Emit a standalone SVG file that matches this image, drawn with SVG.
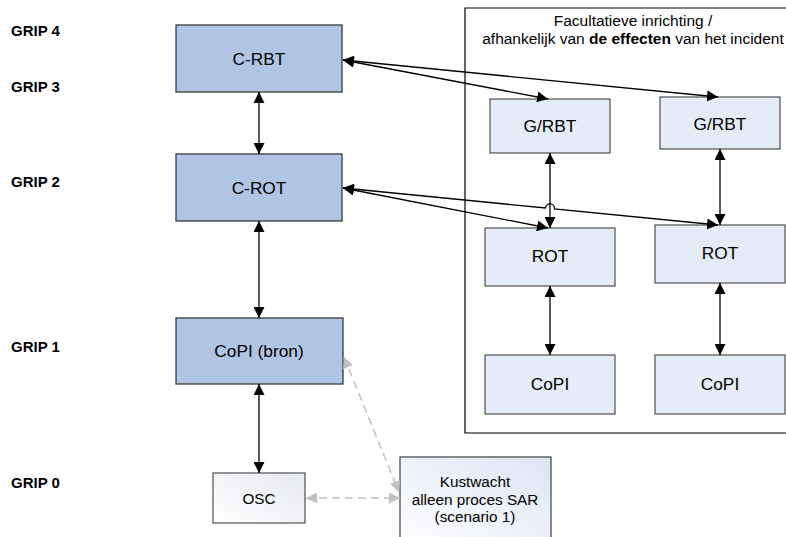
<svg xmlns="http://www.w3.org/2000/svg" width="786" height="537" viewBox="0 0 786 537">
<style>
  text { font-family: "Liberation Sans", Arial, sans-serif; fill: #000; }
  .grip { font-size: 15px; font-weight: bold; }
  .lbl { font-size: 17.3px; text-anchor: middle; }
  .sm { font-size: 15.3px; text-anchor: middle; }
  .title { font-size: 15.5px; text-anchor: middle; }
  .main { fill: #B0C4E4; stroke: #3A3A3A; stroke-width: 1.3; }
  .sub { fill: #E6ECF7; stroke: #505050; stroke-width: 1.2; }
  .con { fill: none; stroke: #000; stroke-width: 1.3; }
  .dash { fill: none; stroke: #C0C0C0; stroke-width: 1.5; stroke-dasharray: 8 5; }
</style>
<defs>
  <marker id="ah" markerUnits="userSpaceOnUse" viewBox="0 0 11 11" refX="11" refY="5.5" markerWidth="11" markerHeight="11" orient="auto-start-reverse">
    <path d="M0,0 L11,5.5 L0,11 z" fill="#000"/>
  </marker>
  <marker id="ahg" markerUnits="userSpaceOnUse" viewBox="0 0 11 11" refX="11" refY="5.5" markerWidth="11" markerHeight="11" orient="auto-start-reverse">
    <path d="M0,0 L11,5.5 L0,11 z" fill="#C0C0C0"/>
  </marker>
  <linearGradient id="gOsc" x1="0" y1="1" x2="1" y2="0">
    <stop offset="0" stop-color="#FFFFFF"/>
    <stop offset="1" stop-color="#E6E9F0"/>
  </linearGradient>
  <linearGradient id="gKw" x1="0" y1="1" x2="1" y2="0">
    <stop offset="0" stop-color="#FFFFFF"/>
    <stop offset="1" stop-color="#DDE5F4"/>
  </linearGradient>
</defs>

<g id="grip-labels">
  <text class="grip" x="11" y="36">GRIP 4</text>
  <text class="grip" x="11" y="92">GRIP 3</text>
  <text class="grip" x="11" y="187">GRIP 2</text>
  <text class="grip" x="11" y="352">GRIP 1</text>
  <text class="grip" x="11" y="488">GRIP 0</text>
</g>

<g id="facultatief">
  <path d="M787,8 L465,8 L465,433 L787,433" fill="none" stroke="#000" stroke-width="1.2"/>
  <text class="title" x="633" y="25.5">Facultatieve inrichting /</text>
  <text class="title" x="633" y="43.5">afhankelijk van <tspan font-weight="bold">de effecten</tspan> van het incident</text>
</g>

<g id="c-rbt">
  <rect class="main" x="176" y="25" width="166" height="67"/>
  <text class="lbl" x="259" y="64.5">C-RBT</text>
</g>
<g id="c-rot">
  <rect class="main" x="176" y="154" width="166" height="67"/>
  <text class="lbl" x="259" y="193.5">C-ROT</text>
</g>
<g id="copi-bron">
  <rect class="main" x="176" y="318" width="167" height="66"/>
  <text class="lbl" x="259" y="356.5">CoPI (bron)</text>
</g>
<g id="osc">
  <rect x="213" y="473" width="92" height="50" fill="url(#gOsc)" stroke="#505050" stroke-width="1.2"/>
  <text class="sm" x="259" y="504">OSC</text>
</g>
<g id="kustwacht">
  <rect x="400" y="457" width="151" height="90" fill="url(#gKw)" stroke="#404040" stroke-width="1.2"/>
  <text class="sm" x="475" y="487">Kustwacht</text>
  <text class="sm" x="475" y="505">alleen proces SAR</text>
  <text class="sm" x="475" y="522">(scenario 1)</text>
</g>

<g id="grbt-1">
  <rect class="sub" x="490" y="99" width="120" height="54"/>
  <text class="lbl" x="550" y="131.5">G/RBT</text>
</g>
<g id="grbt-2">
  <rect class="sub" x="660" y="97" width="120" height="52"/>
  <text class="lbl" x="720" y="129.5">G/RBT</text>
</g>
<g id="rot-1">
  <rect class="sub" x="485" y="228" width="130" height="58"/>
  <text class="lbl" x="550" y="261.5">ROT</text>
</g>
<g id="rot-2">
  <rect class="sub" x="655" y="225" width="130" height="58"/>
  <text class="lbl" x="720" y="258.5">ROT</text>
</g>
<g id="copi-1">
  <rect class="sub" x="485" y="355" width="130" height="59"/>
  <text class="lbl" x="550" y="389.5">CoPI</text>
</g>
<g id="copi-2">
  <rect class="sub" x="655" y="355" width="130" height="59"/>
  <text class="lbl" x="720" y="389.5">CoPI</text>
</g>

<g id="connectors">
  <line class="con" x1="259" y1="92" x2="259" y2="154" marker-start="url(#ah)" marker-end="url(#ah)"/>
  <line class="con" x1="259" y1="221" x2="259" y2="318" marker-start="url(#ah)" marker-end="url(#ah)"/>
  <line class="con" x1="259" y1="384" x2="259" y2="473" marker-start="url(#ah)" marker-end="url(#ah)"/>
  <line class="con" x1="343" y1="60" x2="548" y2="99" marker-start="url(#ah)" marker-end="url(#ah)"/>
  <line class="con" x1="343" y1="60" x2="718" y2="97" marker-start="url(#ah)" marker-end="url(#ah)"/>
  <line class="con" x1="343" y1="188" x2="548" y2="228" marker-start="url(#ah)" marker-end="url(#ah)"/>
  <path class="con" d="M343,188 L545.5,208 A4.5,4.5 0 0 1 554.5,208.9 L718,225" marker-start="url(#ah)" marker-end="url(#ah)"/>
  <line class="con" x1="550" y1="153" x2="550" y2="228" marker-start="url(#ah)" marker-end="url(#ah)"/>
  <line class="con" x1="720" y1="149" x2="720" y2="225" marker-start="url(#ah)" marker-end="url(#ah)"/>
  <line class="con" x1="550" y1="286" x2="550" y2="355" marker-start="url(#ah)" marker-end="url(#ah)"/>
  <line class="con" x1="720" y1="283" x2="720" y2="355" marker-start="url(#ah)" marker-end="url(#ah)"/>
  <line class="dash" x1="344" y1="357" x2="399" y2="492" marker-start="url(#ahg)" marker-end="url(#ahg)"/>
  <line class="dash" x1="306" y1="498" x2="400" y2="498" marker-start="url(#ahg)" marker-end="url(#ahg)"/>
</g>
</svg>
